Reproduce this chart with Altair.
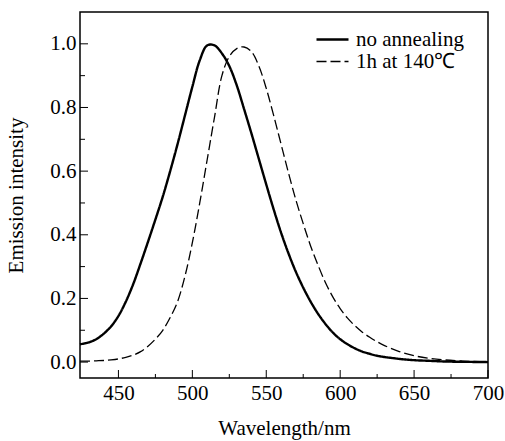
import altair as alt
import pandas as pd

# ---- data ----
wavelength = [424, 430, 435, 440, 445, 450, 455, 460, 465, 470, 475, 480, 485, 490,
              495, 500, 505, 510, 515, 520, 525, 530, 535, 540, 545, 550,
              555, 560, 565, 570, 575, 580, 585, 590, 595, 600, 605, 610, 615, 620,
              625, 630, 640, 650, 660, 670, 680, 690, 700]
no_annealing = [0.056, 0.062, 0.072, 0.089, 0.112, 0.145, 0.19, 0.245, 0.31, 0.378,
                0.448, 0.52, 0.60, 0.685, 0.775, 0.865, 0.948, 0.995, 0.995,
                0.97, 0.93, 0.87, 0.795, 0.718, 0.638, 0.558, 0.48, 0.407,
                0.342, 0.284, 0.234, 0.19, 0.152, 0.12, 0.093, 0.072, 0.056, 0.043,
                0.033, 0.026, 0.020, 0.016, 0.010, 0.006, 0.004, 0.002, 0.001, 0.0005, 0.0]
annealed_140 = [0.003, 0.003, 0.004, 0.005, 0.007, 0.010, 0.015, 0.022, 0.033, 0.05,
                0.072, 0.10, 0.14, 0.19, 0.27, 0.375, 0.50, 0.635, 0.77,
                0.90, 0.96, 0.985, 0.99, 0.975, 0.93, 0.86, 0.775, 0.685,
                0.595, 0.51, 0.435, 0.365, 0.305, 0.25, 0.205, 0.168, 0.138, 0.114,
                0.094, 0.078, 0.064, 0.052, 0.033, 0.02, 0.012, 0.007, 0.004, 0.002, 0.001]
series_names = ["no annealing", "1h at 140\u2103"]

x_major = [450, 500, 550, 600, 650, 700]
x_minor = [475, 525, 575, 625, 675]
y_major = [0.0, 0.2, 0.4, 0.6, 0.8, 1.0]
y_minor = [0.1, 0.3, 0.5, 0.7, 0.9]

W, H = 408, 366
FONT = "Liberation Serif"

rows = []
for name, vals in zip(series_names, [no_annealing, annealed_140]):
    for w, v in zip(wavelength, vals):
        rows.append({"wl": w, "v": v, "series": name})
df = pd.DataFrame(rows)

xscale = alt.Scale(domain=[424, 700], nice=False, zero=False)
yscale = alt.Scale(domain=[-0.05, 1.1], nice=False, zero=False)
xaxis = alt.Axis(values=x_major, title="Wavelength/nm", format="d", labelFlush=False)
yaxis = alt.Axis(values=y_major, format=".1f", title="Emission intensity", labelFlush=False)

legend = alt.Legend(
    title=None, orient="none", legendX=235, legendY=17,
    symbolType="stroke", symbolSize=1024, symbolStrokeColor="black",
    labelFont=FONT, labelFontSize=21, labelColor="black", labelOffset=6,
    clipHeight=21, rowPadding=0, padding=0,
)

lines = alt.Chart(df).mark_line(color="black", interpolate="catmull-rom").encode(
    x=alt.X("wl:Q", scale=xscale, axis=xaxis),
    y=alt.Y("v:Q", scale=yscale, axis=yaxis),
    strokeDash=alt.StrokeDash("series:N",
                              scale=alt.Scale(domain=series_names, range=[[1, 0], [10, 4]]),
                              legend=legend),
    strokeWidth=alt.StrokeWidth("series:N",
                                scale=alt.Scale(domain=series_names, range=[2.4, 1.3]),
                                legend=legend),
)

def xticks(vals, length):
    return alt.Chart(pd.DataFrame({"wl": vals})).mark_rule(color="black", strokeWidth=1).encode(
        x=alt.X("wl:Q", scale=xscale, axis=xaxis), y=alt.value(H), y2=alt.value(H - length))

def yticks(vals, length):
    return alt.Chart(pd.DataFrame({"v": vals})).mark_rule(color="black", strokeWidth=1).encode(
        y=alt.Y("v:Q", scale=yscale, axis=yaxis), x=alt.value(0), x2=alt.value(length))

chart = alt.layer(
    lines, xticks(x_major, 8), xticks(x_minor, 4), yticks(y_major, 8), yticks(y_minor, 5)
).properties(
    width=W, height=H,
    padding={"left": 80, "top": 12, "right": 17, "bottom": 63},
    autosize=alt.AutoSizeParams(type="none"),
).configure_view(
    stroke="black", strokeWidth=1.5
).configure_axis(
    grid=False, ticks=False, domain=False,
    labelFont=FONT, labelFontSize=21, labelColor="black",
    titleFont=FONT, titleFontSize=21, titleFontWeight="normal", titleColor="black",
).configure_axisX(
    labelPadding=4, titlePadding=14,
).configure_axisY(
    labelPadding=4, titlePadding=23,
)

chart.save("out.html", embed_options={"renderer": "svg", "actions": False})
